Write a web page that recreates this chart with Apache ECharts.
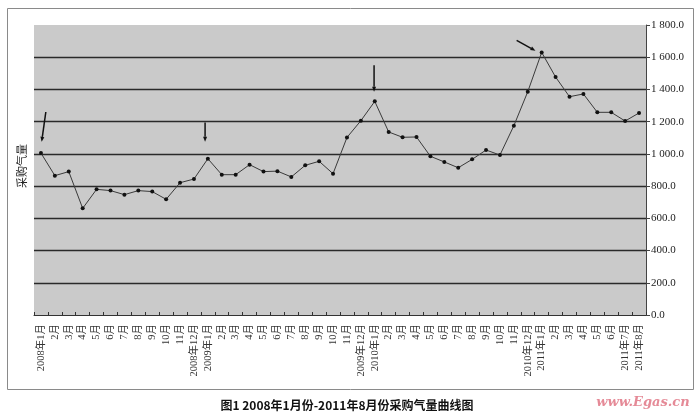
<!DOCTYPE html>
<html><head><meta charset="utf-8">
<script src="https://cdn.jsdelivr.net/npm/echarts@6/dist/echarts.min.js"></script>
<style>html,body{margin:0;padding:0;background:#fff}#c{width:700px;height:415px}</style>
</head><body><div id="c"></div>
<script>
const categories = ["2008年1月","2月","3月","4月","5月","6月","7月","8月","9月","10月","11月","2008年12月",
"2009年1月","2月","3月","4月","5月","6月","7月","8月","9月","10月","11月","2009年12月",
"2010年1月","2月","3月","4月","5月","6月","7月","8月","9月","10月","11月","2010年12月",
"2011年1月","2月","3月","4月","5月","6月","2011年7月","2011年8月"];
const purchaseVolume = [1005,865,890,662,780,772,747,772,766,718,821,844,
970,871,871,933,890,893,857,929,954,877,1102,1206,
1326,1136,1103,1105,985,950,914,966,1024,993,1175,1386,
1630,1477,1355,1372,1258,1258,1204,1254];
const yTicks = [0,200,400,600,800,1000,1200,1400,1600,1800];
// arrow annotations: [fromIndex, fromValue, toIndex, toValue]
const arrows = [[0.35,1260,0.05,1075],[11.8,1195,11.8,1075],[23.95,1550,23.95,1385],[34.2,1705,35.55,1640]];
const yName = "采购气量";
const caption = "图1 2008年1月份-2011年8月份采购气量曲线图";
const watermark = "www.Egas.cn";

const chart = echarts.init(document.getElementById('c'), null, {renderer:'canvas'});
function fmt(v){ const s = v.toFixed(1); return v>=1000 ? s[0]+' '+s.slice(1) : s; }
const splitColors = yTicks.map((t,i)=> (i===0||i===yTicks.length-1) ? 'rgba(0,0,0,0)' : '#2a2a2a');
chart.setOption({
  animation:false,
  grid:{left:34,right:54,top:25,bottom:100,show:true,backgroundColor:'#cacaca',borderWidth:0},
  xAxis:{type:'category',data:categories,boundaryGap:true,
    axisLine:{lineStyle:{color:'#333',width:1}},
    axisTick:{show:true,inside:true,length:3,lineStyle:{color:'#333'}},
    axisLabel:{rotate:90,interval:0,fontSize:10.5,color:'#333',fontFamily:'"Liberation Serif","Noto Sans CJK SC",serif',margin:9}
  },
  yAxis:{type:'value',position:'right',min:0,max:1800,interval:200,
    axisLine:{show:true,lineStyle:{color:'#444',width:1}},
    axisTick:{show:true,length:4,lineStyle:{color:'#444'}},
    axisLabel:{formatter:fmt,fontSize:11,color:'#222',fontFamily:'"Liberation Serif",serif',margin:5},
    splitLine:{show:true,lineStyle:{color:splitColors,width:1.4}}
  },
  series:[{type:'line',data:purchaseVolume,symbol:'circle',symbolSize:4,
    itemStyle:{color:'#111'},lineStyle:{color:'#3a3a3a',width:1}}]
});
function px(idx,val){
  const a = chart.convertToPixel({gridIndex:0},[0,val]);
  const b = chart.convertToPixel({gridIndex:0},[1,val]);
  return [a[0]+(b[0]-a[0])*idx, a[1]];
}
const g = [];
g.push({type:'rect',shape:{x:7.5,y:8.5,width:686,height:381},style:{fill:null,stroke:'#8a8a8a',lineWidth:1},z:-1});
arrows.forEach(ar=>{
  const p0=px(ar[0],ar[1]), p1=px(ar[2],ar[3]);
  const dx=p1[0]-p0[0], dy=p1[1]-p0[1], L=Math.hypot(dx,dy), ux=dx/L, uy=dy/L;
  const hl=5, hw=2;
  const bx=p1[0]-ux*hl, by=p1[1]-uy*hl;
  g.push({type:'line',shape:{x1:p0[0],y1:p0[1],x2:bx,y2:by},style:{stroke:'#111',lineWidth:1.5},z:100});
  g.push({type:'polygon',shape:{points:[[p1[0],p1[1]],[bx-uy*hw,by+ux*hw],[bx+uy*hw,by-ux*hw]]},style:{fill:'#111'},z:100});
});
g.push({type:'text',x:22,y:166,rotation:Math.PI/2,style:{text:yName,fontSize:11,fill:'#222',fontFamily:'"Noto Sans CJK SC",serif',align:'center',verticalAlign:'middle'}});
g.push({type:'text',x:347,y:405,style:{text:caption,fontSize:12,fontWeight:'bold',fill:'#111',fontFamily:'"Noto Sans CJK SC",sans-serif',align:'center',verticalAlign:'middle'}});
g.push({type:'text',x:643,y:403,style:{text:watermark,fontSize:13,fontStyle:'italic',fontWeight:'bold',fill:'#e58a97',fontFamily:'"DejaVu Serif",serif',align:'center',verticalAlign:'middle'}});
chart.setOption({graphic:g});
</script></body></html>
